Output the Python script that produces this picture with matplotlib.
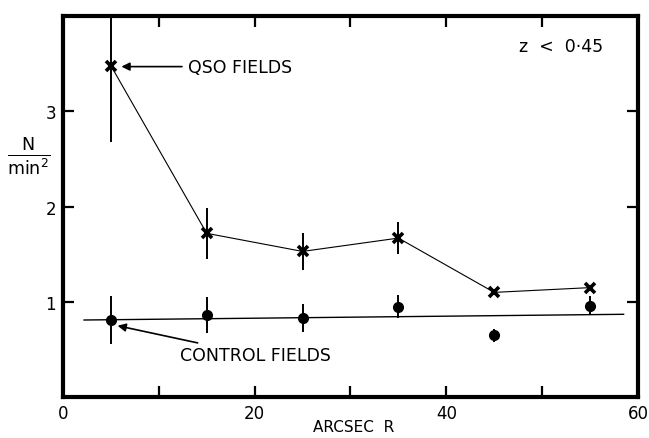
import matplotlib
matplotlib.use("Agg")
import matplotlib.pyplot as plt

# Data
radius = [5, 15, 25, 35, 45, 55]
qso_n = [3.48, 1.72, 1.53, 1.67, 1.10, 1.15]
qso_err = [0.80, 0.27, 0.19, 0.17, 0.0, 0.0]
ctrl_n = [0.81, 0.86, 0.83, 0.95, 0.65, 0.96]
ctrl_err = [0.25, 0.19, 0.15, 0.12, 0.07, 0.10]
mean_line_x = [2.2, 58.5]
mean_line_y = [0.81, 0.87]
xticks = [0, 10, 20, 30, 40, 50, 60]
xticklabels = ["0", "", "20", "", "40", "", "60"]
yticks = [1, 2, 3]
yticklabels = ["1", "2", "3"]

plt.rcParams['font.family'] = ['DejaVu Sans']
fig = plt.figure(figsize=(6.49, 4.39), dpi=100)
ax = fig.add_axes([0.097, 0.093, 0.886, 0.868])

ax.plot(radius, qso_n, color='black', lw=0.8, zorder=2)
ax.errorbar(radius, qso_n, yerr=qso_err, fmt='x', color='black', ms=7, mew=2.6,
            elinewidth=1.4, capsize=0, zorder=3)
ax.plot(mean_line_x, mean_line_y, color='black', lw=1.0, zorder=2)
ax.errorbar(radius, ctrl_n, yerr=ctrl_err, fmt='o', color='black', ms=7,
            elinewidth=1.4, capsize=0, zorder=3)

ax.set_xlim(0, 60)
ax.set_ylim(0, 4)
ax.set_xticks(xticks)
ax.set_xticklabels(xticklabels)
ax.set_yticks(yticks)
ax.set_yticklabels(yticklabels)
ax.tick_params(direction='in', length=8, width=1.6, labelsize=12, top=True, right=True,
               pad=5)
for s in ax.spines.values():
    s.set_linewidth(3.0)

fig.text(0.545, 0.008, "ARCSEC  R", fontsize=11, ha='center', va='bottom')
ax.set_ylabel(r"$\frac{\mathsf{N}}{\mathsf{min^2}}$", fontsize=18, rotation=0,
              labelpad=18, va='center')
ax.yaxis.set_label_coords(-0.06, 0.635)

ax.annotate("QSO FIELDS", xy=(6.1, 3.47), xytext=(13.0, 3.47),
            fontsize=12.5, va='center', ha='left',
            arrowprops=dict(arrowstyle='-|>', color='black', lw=1.2,
                            mutation_scale=12, shrinkA=2, shrinkB=0))
ax.annotate("CONTROL FIELDS", xy=(5.7, 0.75), xytext=(12.2, 0.44),
            fontsize=12.5, va='center', ha='left',
            arrowprops=dict(arrowstyle='-|>', color='black', lw=1.2,
                            mutation_scale=12, shrinkA=2, shrinkB=0))
ax.text(47.6, 3.69, "z  <  0·45", fontsize=12.5, va='center', ha='left')

fig.savefig("out.png", dpi=100)
